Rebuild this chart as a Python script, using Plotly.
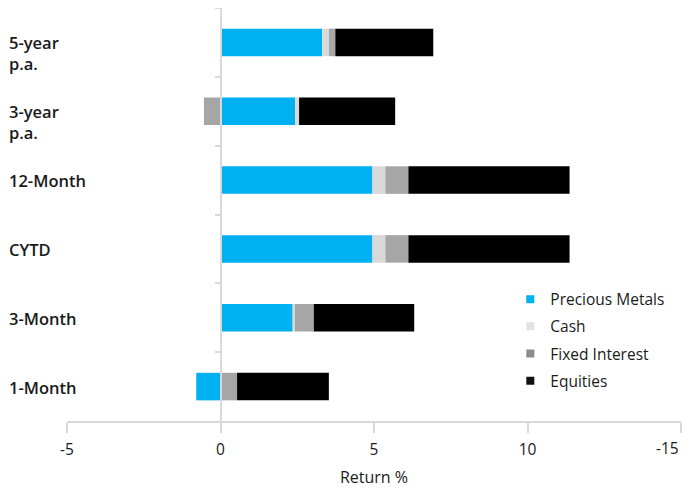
import plotly.graph_objects as go

categories = ["5-year\np.a.", "3-year\np.a.", "12-Month", "CYTD", "3-Month", "1-Month"]
precious_metals = [3.31, 2.43, 4.95, 4.95, 2.35, -0.79]
cash = [0.22, 0.13, 0.42, 0.42, 0.07, 0.0]
fixed_interest = [0.21, -0.54, 0.75, 0.75, 0.62, 0.54]
equities = [3.19, 3.13, 5.25, 5.25, 3.27, 2.99]

tick_vals = [-5, 0, 5, 10, 15]
tick_text = ["-5", "0", "5", "10", "-15"]

series = [
    ("Precious Metals", precious_metals, "#00B0F0", "#00B0F0"),
    ("Cash", cash, "#D9D9D9", "#E3E3E3"),
    ("Fixed Interest", fixed_interest, "#A6A6A6", "#8C8C8C"),
    ("Equities", equities, "#000000", "#111111"),
]

FONT = "Open Sans"
TXT = "#1a1a1a"
fig = go.Figure()
for name, vals, color, lcolor in series:
    fig.add_trace(go.Bar(
        name=name, y=categories, x=vals, orientation="h",
        marker=dict(color=color, line=dict(width=0)),
        showlegend=False,
    ))
# legend entries with small square symbols
for name, vals, color, lcolor in series:
    fig.add_trace(go.Scatter(
        name=name, x=[None], y=[None], mode="markers",
        marker=dict(symbol="square", size=8, color=lcolor),
        legendgroup=name, showlegend=True,
    ))

W, H = 685, 483
L, R, T, B = 59, 12, 0, 70
plot_w = W - L - R

annotations = []
for c in categories:
    annotations.append(dict(
        text=c.replace("\n", "<br>"), xref="paper", yref="y",
        x=(-1 - L) / plot_w, y=c, xanchor="left", yanchor="top", yshift=13,
        align="left", showarrow=False,
        font=dict(family=FONT, size=16.5, color=TXT, weight=600),
    ))

# the last tick label is drawn right-aligned so it stays inside the page
shown_ticks = tick_text[:-1] + [""]
annotations.append(dict(
    text=tick_text[-1], xref="x", yref="paper", x=tick_vals[-1], y=0,
    xanchor="right", yanchor="middle", yshift=-27, xshift=0,
    showarrow=False,
    font=dict(family=FONT, size=15.5, color=TXT, weight=500),
))

fig.update_layout(
    width=W, height=H,
    margin=dict(l=L, r=R, t=T, b=B),
    barmode="relative", bargap=0.6,
    plot_bgcolor="white", paper_bgcolor="white",
    font=dict(family=FONT, size=16, color=TXT),
    showlegend=True,
    legend=dict(x=0.722, y=0.335, xanchor="left", yanchor="top",
                traceorder="grouped", tracegroupgap=4,
                bgcolor="rgba(0,0,0,0)",
                font=dict(family=FONT, size=15.5, color=TXT, weight=500),
                itemwidth=30),
    annotations=annotations,
    xaxis=dict(
        range=[-5, 15], tickvals=tick_vals, ticktext=shown_ticks,
        showgrid=False, zeroline=False, showline=True,
        linecolor="#d9d9d9", linewidth=2,
        ticks="outside", ticklen=10, tickcolor="#d9d9d9", tickwidth=2,
        tickfont=dict(family=FONT, size=15.5, color=TXT, weight=500),
        ticklabeloverflow="allow", ticklabelstandoff=3,
        title=dict(text="Return %", standoff=13,
                   font=dict(family=FONT, size=16, color=TXT, weight=500)),
        automargin=False,
    ),
    yaxis=dict(
        type="category", categoryorder="array", categoryarray=categories,
        range=[len(categories) - 0.5, -0.5],
        anchor="free", position=(0 - (-5)) / 20,
        showline=True, linecolor="#d9d9d9", linewidth=2,
        ticks="outside", tickson="boundaries", ticklen=5,
        tickcolor="#d9d9d9", tickwidth=2,
        showticklabels=False, showgrid=False, zeroline=False,
        automargin=False,
    ),
)

fig.write_html("out.html")
